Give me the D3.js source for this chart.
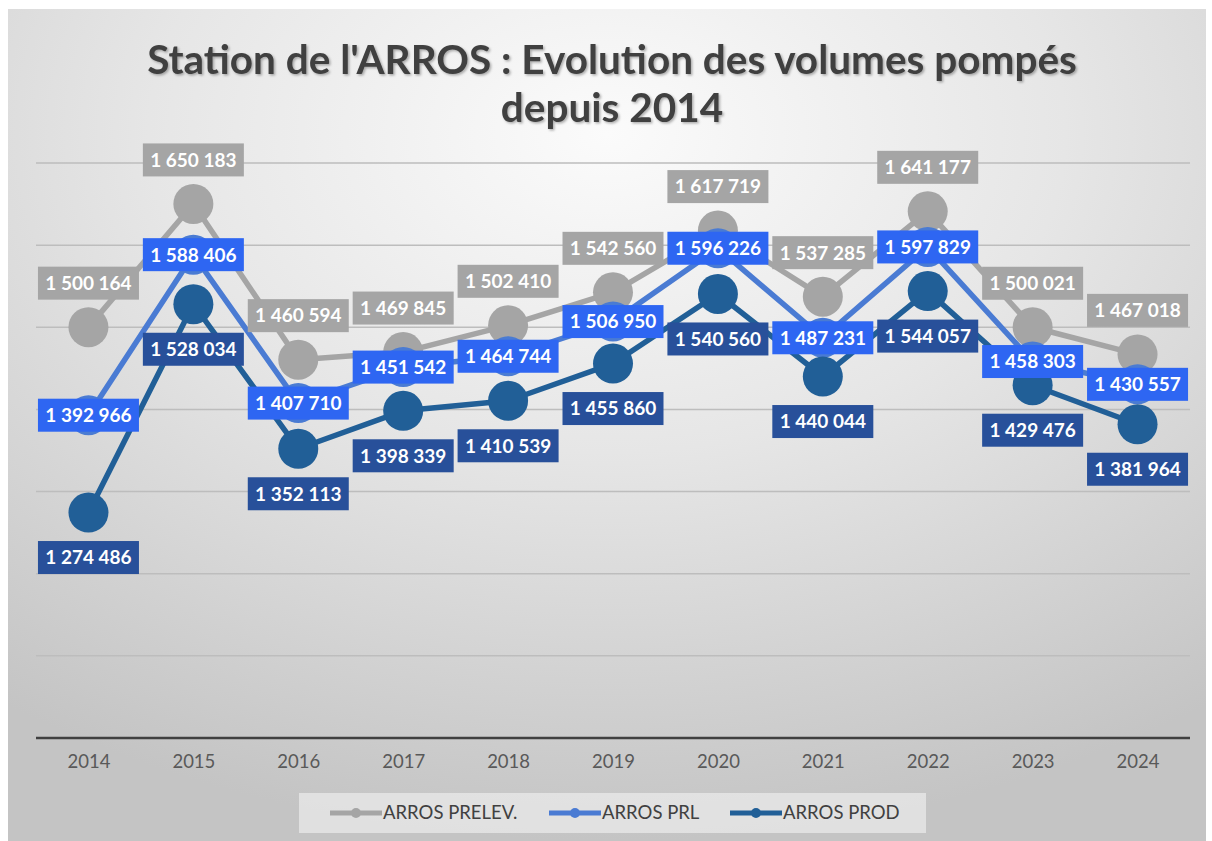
<!DOCTYPE html>
<html>
<head>
<meta charset="utf-8">
<script src="https://cdn.jsdelivr.net/npm/d3@7"></script>
<style>
  body { margin: 0; background: #ffffff; }
  svg { display: block; }
</style>
</head>
<body>
<svg id="chart"></svg>
<script>
// data
var years = ["2014", "2015", "2016", "2017", "2018", "2019", "2020", "2021", "2022", "2023", "2024"]
var prelev = [1500164, 1650183, 1460594, 1469845, 1502410, 1542560, 1617719, 1537285, 1641177, 1500021, 1467018]
var prl = [1392966, 1588406, 1407710, 1451542, 1464744, 1506950, 1596226, 1487231, 1597829, 1458303, 1430557]
var prod = [1274486, 1528034, 1352113, 1398339, 1410539, 1455860, 1540560, 1440044, 1544057, 1429476, 1381964]
var seriesNames = ["ARROS PRELEV.", "ARROS PRL", "ARROS PROD"]
var gridTicks = [1100000, 1200000, 1300000, 1400000, 1500000, 1600000, 1700000]

var dimensions = {
    width: 1212,
    height: 841,
    margin: { top: 163, bottom: 103, left: 36, right: 22 }
}

var series = [
    { name: seriesNames[0], values: prelev, line: "#a5a5a5", box: "#a5a5a5", pos: "above" },
    { name: seriesNames[1], values: prl, line: "#4a7bd3", box: "#2e66f2", pos: "center" },
    { name: seriesNames[2], values: prod, line: "#215f97", box: "#28509a", pos: "below" }
]

var svg = d3.select("#chart")
    .attr("width", dimensions.width)
    .attr("height", dimensions.height)
    .style("font-family", "Lato, 'Open Sans', sans-serif")

var defs = svg.append("defs")
var grad = defs.append("radialGradient")
    .attr("id", "bg")
    .attr("cx", "50%").attr("cy", "15%").attr("r", "85%")
    .attr("gradientUnits", "objectBoundingBox")
grad.append("stop").attr("offset", "0%").attr("stop-color", "#fbfbfb")
grad.append("stop").attr("offset", "45%").attr("stop-color", "#e6e6e6")
grad.append("stop").attr("offset", "100%").attr("stop-color", "#c4c4c4")

var shadow = defs.append("filter").attr("id", "tshadow")
    .attr("x", "-5%").attr("y", "-20%").attr("width", "110%").attr("height", "140%")
shadow.append("feDropShadow")
    .attr("dx", 1.5).attr("dy", 1.5).attr("stdDeviation", 1)
    .attr("flood-color", "#000").attr("flood-opacity", 0.3)

// chart background
svg.append("rect")
    .attr("x", 8).attr("y", 9)
    .attr("width", 1198).attr("height", 832)
    .attr("fill", "url(#bg)")

// title
var title = svg.append("text")
    .attr("text-anchor", "middle")
    .attr("fill", "#404040")
    .attr("font-size", 40.5)
    .attr("font-weight", "bold")
    .attr("filter", "url(#tshadow)")
title.append("tspan").attr("x", 612).attr("y", 74).text("Station de l'ARROS : Evolution des volumes pompés")
title.append("tspan").attr("x", 612).attr("y", 122).text("depuis 2014")

var xScale = d3.scalePoint()
    .domain(years)
    .range([dimensions.margin.left, dimensions.width - dimensions.margin.right])
    .padding(0.5)

var yScale = d3.scaleLinear()
    .domain([1000000, 1700000])
    .range([dimensions.height - dimensions.margin.bottom, dimensions.margin.top])

// gridlines
svg.append("g")
    .selectAll("line")
    .data(gridTicks)
    .enter()
    .append("line")
    .attr("x1", dimensions.margin.left)
    .attr("x2", dimensions.width - dimensions.margin.right)
    .attr("y1", d => yScale(d))
    .attr("y2", d => yScale(d))
    .attr("stroke", "#bdbdbd")
    .attr("stroke-width", 1.5)

// x axis
var xAxisGen = d3.axisBottom(xScale).tickSize(0).tickPadding(17)
var xAxis = svg.append("g")
    .attr("transform", `translate(0,${yScale(1000000)})`)
    .call(xAxisGen)
xAxis.select(".domain")
    .attr("d", `M${dimensions.margin.left},0H${dimensions.width - dimensions.margin.right}`)
    .attr("stroke", "#404040")
    .attr("stroke-width", 2.5)
xAxis.selectAll("text")
    .attr("fill", "#595959")
    .attr("font-size", 18.5)
    .attr("font-family", "Lato, 'Open Sans', sans-serif")

// lines and markers
var lineGen = d3.line()
    .x((d, i) => xScale(years[i]))
    .y(d => yScale(d))

series.forEach(function (s) {
    var g = svg.append("g")
    g.append("path")
        .datum(s.values)
        .attr("d", lineGen)
        .attr("fill", "none")
        .attr("stroke", s.line)
        .attr("stroke-width", 5.5)
        .attr("stroke-linejoin", "round")
    g.selectAll("circle")
        .data(s.values)
        .enter()
        .append("circle")
        .attr("cx", (d, i) => xScale(years[i]))
        .attr("cy", d => yScale(d))
        .attr("r", 20)
        .attr("fill", s.line)
})

// data labels
var fmt = d3.formatLocale({ decimal: ",", thousands: " ", grouping: [3], currency: ["", ""] }).format(",d")

series.forEach(function (s) {
    var g = svg.append("g")
    s.values.forEach(function (v, i) {
        var cx = xScale(years[i])
        var cy = yScale(v)
        if (s.pos === "above") cy -= 44
        if (s.pos === "below") cy += 45
        var lg = g.append("g").attr("transform", `translate(${cx},${cy})`)
        var rect = lg.append("rect").attr("fill", s.box)
        var t = lg.append("text")
            .attr("text-anchor", "middle")
            .attr("dy", "0.36em")
            .attr("fill", "#ffffff")
            .attr("font-size", 19)
            .attr("font-weight", "bold")
            .text(fmt(v))
        var w = Math.max(t.node().getComputedTextLength() + 14, 101)
        rect.attr("x", -w / 2).attr("y", -16.5).attr("width", w).attr("height", 33)
    })
})

// legend
var legend = svg.append("g")
legend.append("rect")
    .attr("x", 299).attr("y", 793)
    .attr("width", 627).attr("height", 40)
    .attr("fill", "#ececec")
    .attr("opacity", 0.7)

var legendX = [330, 549, 730]
series.forEach(function (s, i) {
    var lg = legend.append("g").attr("transform", `translate(${legendX[i]},813)`)
    lg.append("line")
        .attr("x1", 0).attr("x2", 52)
        .attr("stroke", s.line).attr("stroke-width", 5)
    lg.append("circle").attr("cx", 26).attr("r", 5).attr("fill", s.line)
    lg.append("text")
        .attr("x", 53)
        .attr("dy", "0.35em")
        .attr("fill", "#404040")
        .attr("font-size", 18.5)
        .text(s.name)
})
</script>
</body>
</html>
